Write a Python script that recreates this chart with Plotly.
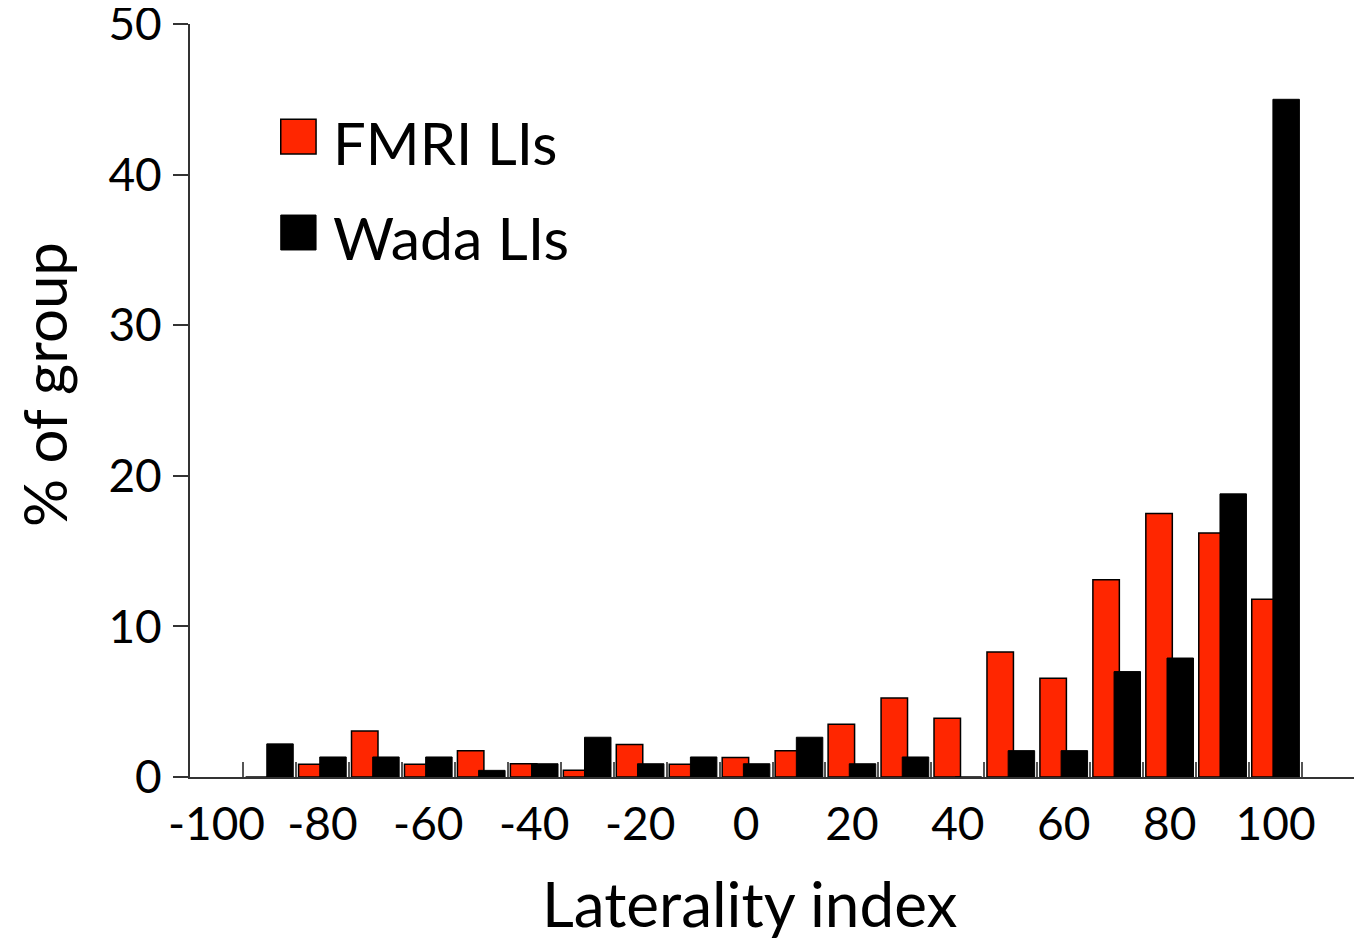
import plotly.graph_objects as go

# Data
bins = [-90, -80, -70, -60, -50, -40, -30, -20, -10, 0,
        10, 20, 30, 40, 50, 60, 70, 80, 90, 100]
fmri = [0, 0.85, 3.05, 0.85, 1.75, 0.88, 0.44, 2.15, 0.85, 1.3,
        1.75, 3.5, 5.25, 3.9, 8.3, 6.55, 13.1, 17.5, 16.2, 11.8]
wada = [2.2, 1.33, 1.33, 1.33, 0.44, 0.88, 2.64, 0.88, 1.33, 0.88,
        2.64, 0.88, 1.33, 0, 1.75, 1.75, 7.0, 7.9, 18.8, 45.0]
x_ticks = [-100, -80, -60, -40, -20, 0, 20, 40, 60, 80, 100]
x_ticktext = ["-100", "-80", "-60", "-40", "-20", "0", "20", "40", "60", "80", "100"]
bin_edges = [-95, -85, -75, -65, -55, -45, -35, -25, -15, -5,
             5, 15, 25, 35, 45, 55, 65, 75, 85, 95, 105, 115]
y_ticks = [0, 10, 20, 30, 40, 50]

FONT = "Lato"
RED = "#FF2600"
AX = "#333333"

fig = go.Figure()
fig.add_trace(go.Bar(x=bins, y=fmri, name="FMRI LIs", width=5, offset=-4.5,
                     marker=dict(color=RED, line=dict(color="black", width=1.5))))
fig.add_trace(go.Bar(x=bins, y=wada, name="Wada LIs", width=5, offset=-0.5,
                     marker=dict(color="black", line=dict(color="black", width=1))))

fig.update_layout(
    width=1354, height=938,
    margin=dict(l=182, r=7, t=16, b=169, autoexpand=False),
    paper_bgcolor="white", plot_bgcolor="white",
    barmode="overlay", showlegend=False,
    font=dict(family=FONT, color="black"),
    xaxis=dict(range=[-105, 115], tickmode="array", tickvals=x_ticks, ticktext=x_ticktext,
               ticks="", showgrid=False, zeroline=False, automargin=False,
               showline=True, linecolor=AX, linewidth=2,
               tickfont=dict(size=46, family=FONT), ticklabelstandoff=6,
               ticklabeloverflow="allow",
               minor=dict(tickmode="array", tickvals=bin_edges, ticks="inside",
                          ticklen=15, tickwidth=2, tickcolor="#555555", showgrid=False)),
    yaxis=dict(range=[0, 50], tickmode="array", tickvals=y_ticks,
               ticks="outside", ticklen=15, tickwidth=2, tickcolor=AX,
               showgrid=False, zeroline=False, automargin=False,
               showline=True, linecolor=AX, linewidth=2,
               tickfont=dict(size=46, family=FONT), ticklabelstandoff=2,
               ticklabeloverflow="allow"),
)

# extension of x axis line to the left of the y axis
fig.add_shape(type="line", xref="paper", yref="paper", x0=-15/1165, x1=0, y0=0, y1=0,
              line=dict(color=AX, width=2))

# legend
fig.add_shape(type="rect", xref="paper", yref="paper", x0=0.0779, x1=0.1082,
              y0=0.8274, y1=0.8734, fillcolor=RED, line=dict(color="black", width=1.5))
fig.add_shape(type="rect", xref="paper", yref="paper", x0=0.0779, x1=0.1082,
              y0=0.6999, y1=0.7463, fillcolor="black", line=dict(color="black", width=1))
fig.add_annotation(text="FMRI LIs", xref="paper", yref="paper", x=0.121, y=0.842,
                   xanchor="left", yanchor="middle", showarrow=False,
                   font=dict(size=58, family=FONT, color="black"))
fig.add_annotation(text="Wada LIs", xref="paper", yref="paper", x=0.121, y=0.716,
                   xanchor="left", yanchor="middle", showarrow=False,
                   font=dict(size=59, family=FONT, color="black"))

# axis titles
fig.add_annotation(text="Laterality index", xref="paper", yref="paper",
                   x=(750-190)/1165, y=(777-903)/753, xanchor="center", yanchor="middle",
                   showarrow=False, font=dict(size=62, family=FONT, color="black"))
fig.add_annotation(text="% of group", xref="paper", yref="paper", textangle=-90,
                   x=(44-190)/1165, y=(777-385)/753, xanchor="center", yanchor="middle",
                   showarrow=False, font=dict(size=60, family=FONT, color="black"))

fig.write_html("out.html")
